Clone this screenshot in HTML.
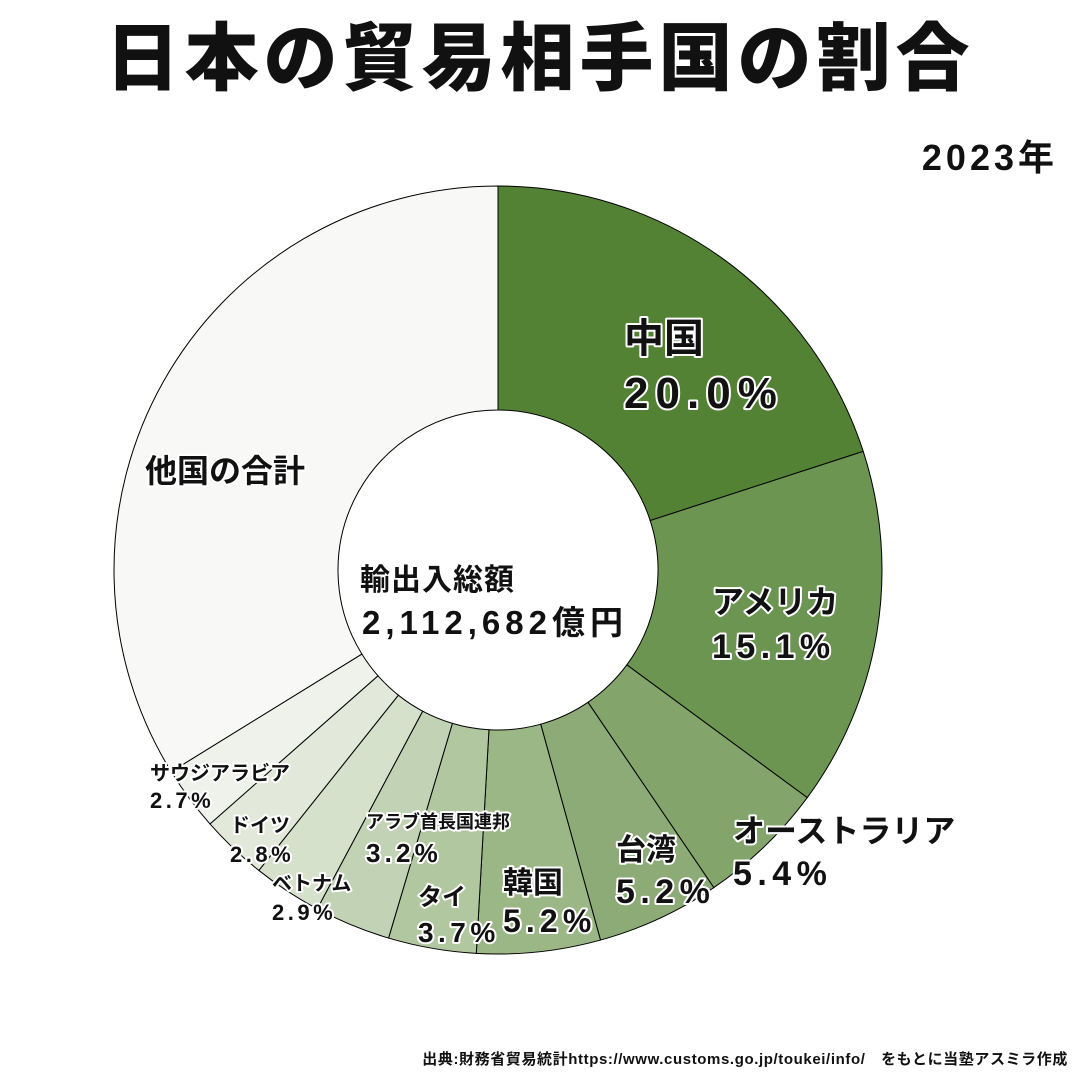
<!DOCTYPE html>
<html><head><meta charset="utf-8"><style>
body{margin:0;background:#fff;}
svg{display:block;font-family:"Liberation Sans","Noto Sans CJK JP",sans-serif;font-weight:bold;}
.lbl{paint-order:stroke;stroke:#fff;stroke-width:4px;stroke-linejoin:round;fill:#111;}
.num{letter-spacing:0.16em;}
</style></head><body>
<svg id="chart" width="1080" height="1080" viewBox="0 0 1080 1080">
<rect width="1080" height="1080" fill="#fff"/>
<text x="540" y="84" text-anchor="middle" font-size="74" font-weight="900" letter-spacing="5" fill="#111">日本の貿易相手国の割合</text>
<text x="1058" y="170" text-anchor="end" font-size="36" letter-spacing="4" fill="#111">2023年</text>
<g id="slices"></g>
<g id="labels"></g>
<text x="360" y="590" font-size="30" letter-spacing="1" fill="#111">輸出入総額</text>
<text x="362" y="634" font-size="33" letter-spacing="5" fill="#111">2,112,682億円</text>
<text x="1068" y="1064" text-anchor="end" font-size="15" letter-spacing="0.6" fill="#111">出典:財務省貿易統計https://www.customs.go.jp/toukei/info/　をもとに当塾アスミラ作成</text>
</svg>
<script>
const categories=["中国","アメリカ","オーストラリア","台湾","韓国","タイ","アラブ首長国連邦","ベトナム","ドイツ","サウジアラビア","他国の合計"];
const shares=[20.0,15.1,5.4,5.2,5.2,3.7,3.2,2.9,2.8,2.7,33.8];
const colors=["#548235","#6b9551","#83a46b","#8dab76","#9ab785","#b0c7a0","#c1d3b4","#d5e1cb","#e2e9db","#eef2ea","#f8f8f6"];
const cx=498,cy=570,R=384,r=160;
const NS="http://www.w3.org/2000/svg";
const gS=document.getElementById('slices');
const total=shares.reduce((a,b)=>a+b,0);
function pt(rad,frac){const a=frac*2*Math.PI-Math.PI/2;return [cx+rad*Math.cos(a),cy+rad*Math.sin(a)];}
let acc=0;
shares.forEach((v,i)=>{
  const f0=acc/total,f1=(acc+v)/total;acc+=v;
  const [x0,y0]=pt(R,f0),[x1,y1]=pt(R,f1),[x2,y2]=pt(r,f1),[x3,y3]=pt(r,f0);
  const lg=(f1-f0)>0.5?1:0;
  const p=document.createElementNS(NS,'path');
  p.setAttribute('d',`M${x0},${y0}A${R},${R} 0 ${lg} 1 ${x1},${y1}L${x2},${y2}A${r},${r} 0 ${lg} 0 ${x3},${y3}Z`);
  p.setAttribute('fill',colors[i]);p.setAttribute('stroke','#000');p.setAttribute('stroke-width','1');
  
  
  gS.appendChild(p);
});
const gL=document.getElementById('labels');
const layout=[[624,352,40,408,44],[712,613,32,658,34],[733,842,32,885,34],[616,860,30,903,34],[503,893,30,932,32],[418,905,24,942,28],[366,828,18,862,26],[272,890,20,920,22],[230,832,20,862,22],[150,780,20,808,22],[145,482,32,0,0]];
layout.forEach((l,i)=>{
  const t=document.createElementNS(NS,'text');
  t.setAttribute('x',l[0]);t.setAttribute('y',l[1]);t.setAttribute('font-size',l[2]);t.setAttribute('class','lbl');
  t.textContent=categories[i];
  
  
  gL.appendChild(t);
  if(l[4]){
    const u=document.createElementNS(NS,'text');
    u.setAttribute('x',l[0]);u.setAttribute('y',l[3]);u.setAttribute('font-size',l[4]);u.setAttribute('class','lbl num');
    u.textContent=shares[i].toFixed(1)+'%';
    
    
    gL.appendChild(u);
  }
});
</script>
</body></html>
